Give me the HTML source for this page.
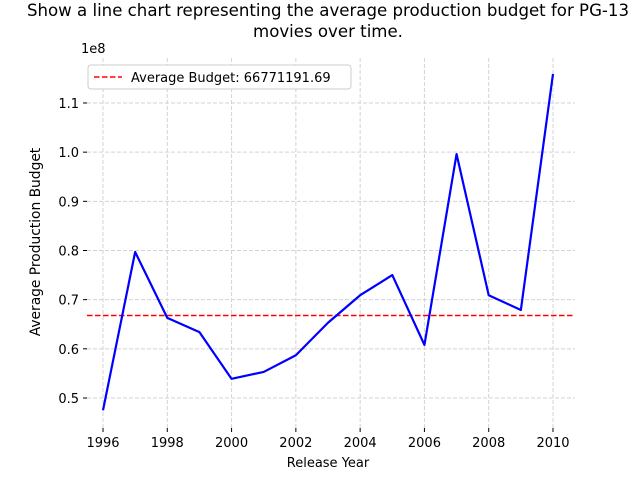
<!DOCTYPE html>
<html><head><meta charset="utf-8"><style>
body{margin:0;background:#fff;font-family:"Liberation Sans","DejaVu Sans",sans-serif}
svg text{font-family:"DejaVu Sans","Liberation Sans",sans-serif}
</style></head><body>
<svg id="chart" width="640" height="480" xmlns="http://www.w3.org/2000/svg">
<text x="328" y="16" font-size="16.6" text-anchor="middle">Show a line chart representing the average production budget for PG-13</text>
<text x="328" y="37" font-size="16.6" text-anchor="middle">movies over time.</text>
<g id="grid"></g><g id="axes"></g><g id="marks"></g>
<text x="328" y="467" font-size="13" text-anchor="middle">Release Year</text>
<text transform="translate(40,242) rotate(-90)" font-size="13.8" text-anchor="middle">Average Production Budget</text>
<text x="81" y="53" font-size="13">1e8</text>
<g>
<rect x="88" y="65" width="263" height="24" rx="3" fill="#fff" stroke="#ccc"/>
<line x1="94" y1="77" x2="122" y2="77" stroke="red" stroke-width="1.5" stroke-dasharray="5.5,2.5"/>
<text x="131" y="82" font-size="13">Average Budget: 66771191.69</text>
</g>
</svg>
<script>
const years=[1996,1997,1998,1999,2000,2001,2002,2003,2004,2005,2006,2007,2008,2009,2010];
const budgets=[0.475,0.797,0.663,0.634,0.539,0.553,0.587,0.653,0.709,0.750,0.608,0.996,0.709,0.679,1.159];
const average=[0.6677119169];
const xTicks=[1996,1998,2000,2002,2004,2006,2008,2010];
const yTicks=[0.5,0.6,0.7,0.8,0.9,1.0,1.1];
const NS="http://www.w3.org/2000/svg";
const X=v=>103+(v-1996)*(450/14);
const Y=v=>398-(v-0.5)*491.7;
const L=87,R=575,T=58,B=428;
function mk(t,a,p){const e=document.createElementNS(NS,t);for(const k in a)e.setAttribute(k,a[k]);p.appendChild(e);return e;}
const g=document.getElementById('grid'),ax=document.getElementById('axes'),m=document.getElementById('marks');
xTicks.forEach(t=>{
const l=mk('line',{x1:X(t),x2:X(t),y1:T,y2:B,stroke:'#d3d3d3','stroke-dasharray':'4,2'},g);


const tk=mk('line',{x1:X(t),x2:X(t),y1:B,y2:B+4,stroke:'#000'},ax);


const tx=mk('text',{x:X(t),y:B+19,'font-size':13,'text-anchor':'middle'},ax);tx.textContent=t;


});
yTicks.forEach(t=>{
const l=mk('line',{x1:L,x2:R,y1:Y(t),y2:Y(t),stroke:'#d3d3d3','stroke-dasharray':'4,2'},g);


const tk=mk('line',{x1:L-4,x2:L,y1:Y(t),y2:Y(t),stroke:'#000'},ax);


const tx=mk('text',{x:L-8,y:Y(t)+5,'font-size':13,'text-anchor':'end'},ax);tx.textContent=t.toFixed(1);


});
const avg=mk('line',{x1:L,x2:R,y1:Y(average[0]),y2:Y(average[0]),stroke:'red','stroke-width':1.5,'stroke-dasharray':'5.5,2.5'},m);


const p=mk('polyline',{points:years.map((y,i)=>X(y)+','+Y(budgets[i])).join(' '),fill:'none',stroke:'blue','stroke-width':2.2,'stroke-linejoin':'round'},m);


</script>
</body></html>
